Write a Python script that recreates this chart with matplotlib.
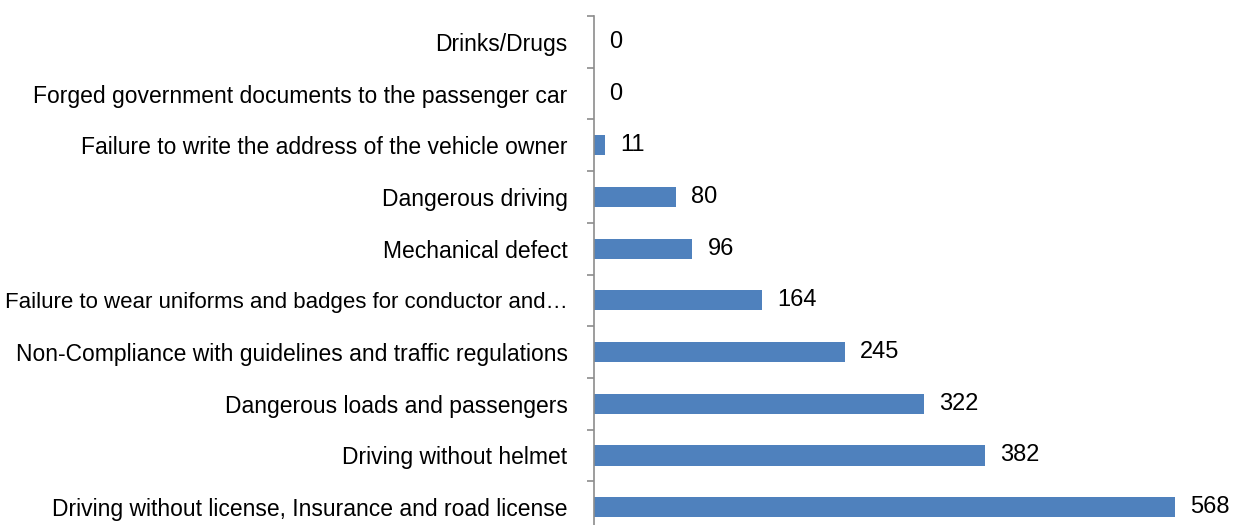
import matplotlib
matplotlib.use("Agg")
import matplotlib.pyplot as plt
import numpy as np

categories = [
    "Driving without license, Insurance and road license",
    "Driving without helmet",
    "Dangerous loads and passengers",
    "Non-Compliance with guidelines and traffic regulations",
    "Failure to wear uniforms and badges for conductor and\u2026",
    "Mechanical defect",
    "Dangerous driving",
    "Failure to write the address of the vehicle owner",
    "Forged government documents to the passenger car",
    "Drinks/Drugs",
]
values = [568, 382, 322, 245, 164, 96, 80, 11, 0, 0]

plt.rcParams['font.family'] = ['Liberation Sans', 'DejaVu Sans']

W, H = 1239, 525
fig = plt.figure(figsize=(W / 100, H / 100), dpi=100)
left = 594 / W
right = 1208 / W
top_px = 16
bot_px = 533
ax = fig.add_axes([left, (H - bot_px) / H, right - left, (bot_px - top_px) / H])

y = np.arange(len(categories))
ax.barh(y, values, height=0.39, color="#4F81BD", zorder=2)
ax.set_xlim(0, 600)
ax.set_ylim(-0.5, len(categories) - 0.5)

for yi, v in zip(y, values):
    ax.annotate(str(v), (v, yi), xytext=(11, 0), textcoords="offset points",
                va="center", ha="left", fontsize=17, color="black")

ax.set_yticks(y)
labels = ax.set_yticklabels(categories, fontsize=16.5)
for lab in labels:
    if lab.get_text().endswith("\u2026"):
        lab.set_fontsize(16)
ax.tick_params(axis="y", which="major", length=0, pad=19)
ax.set_yticks(np.arange(-0.5, len(categories), 1), minor=True)
ax.tick_params(axis="y", which="minor", length=5, width=1.2, color="#8C8C8C", direction="out")

ax.set_xticks([])
for s in ["top", "right", "bottom"]:
    ax.spines[s].set_visible(False)
ax.spines["left"].set_color("#8C8C8C")
ax.spines["left"].set_linewidth(1.2)

fig.savefig("out.png", dpi=100)
